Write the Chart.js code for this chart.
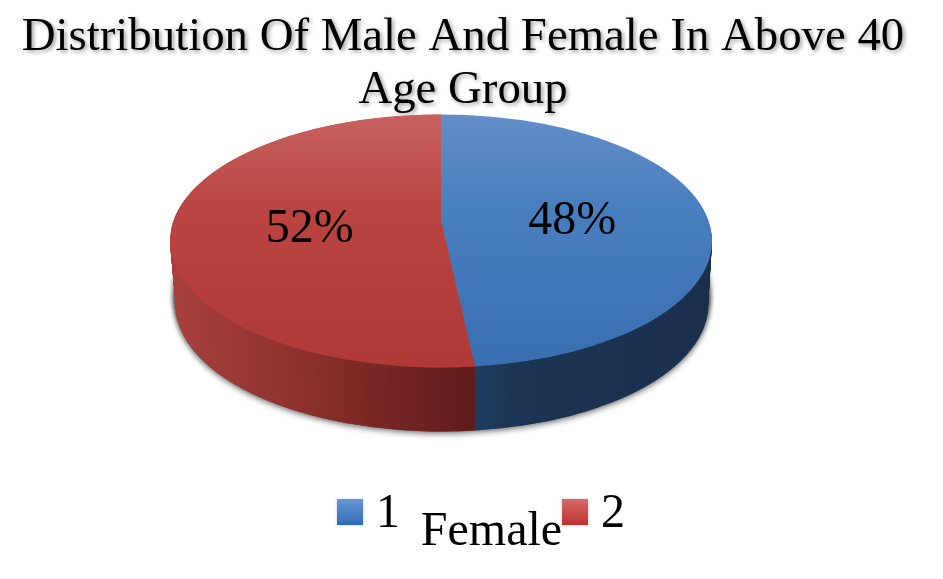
<!DOCTYPE html>
<html>
<head>
<meta charset="utf-8">
<title>Distribution Of Male And Female</title>
<script src="https://cdn.jsdelivr.net/npm/chart.js@4"></script>
<style>
    body { margin: 0; background: #fff; }
    canvas { display: block; }
</style>
</head>
<body>
<canvas id="pieChart" width="943" height="579"></canvas>
<script>
const titleLines = ['Distribution Of Male And Female In Above 40', 'Age Group'];
const categories = ['1', '2'];
const shares = [48, 52];
const axisLabel = 'Female';

const FONT = '"Liberation Serif", serif';
const CENTER_X = 441;
const CENTER_Y = 241;
const RADIUS = 271;
const SQUASH = 0.467;
const DEPTH = 64;
const WALL_TAPER = 0.018;
// the perspective in the picture moves the point where the slices meet upward
const APEX_Y = 220;

// top faces get a vertical shade, the walls a horizontal one
const faceStops = [
    [[0, '#638ec8'], [0.35, '#4a7fbf'], [1, '#386fb1']],
    [[0, '#c66260'], [0.35, '#bb4542'], [1, '#b03935']]
];
const wallStops = [
    [[0, '#1f3e63'], [0.15, '#1c3554'], [1, '#1a2f4c']],
    [[0, '#a8413d'], [0.45, '#8b2f2b'], [1, '#5e1c1a']]
];
const legendStops = [
    ['#6a97d3', '#2f6cb8'],
    ['#d76a68', '#bb3230']
];

function makeGradient(ctx, x0, y0, x1, y1, stops) {
    const g = ctx.createLinearGradient(x0, y0, x1, y1);
    stops.forEach(s => g.addColorStop(s[0], s[1]));
    return g;
}

function legendSwatch(stops) {
    const c = document.createElement('canvas');
    c.width = 32;
    c.height = 32;
    const ctx = c.getContext('2d');
    ctx.shadowColor = stops[0] + '66';
    ctx.shadowBlur = 3;
    ctx.fillStyle = makeGradient(ctx, 0, 1, 0, 27, [[0, stops[0]], [1, stops[1]]]);
    ctx.fillRect(3, 1, 26, 26);
    return c;
}

const piePlugin = {
    id: 'flatPie',
    afterLayout(chart) {
        // move the boxes to where the picture has them
        const title = chart.titleBlock;
        title.top = 11;
        title.left = 0;
        title.right = 926;
        const legend = chart.legend;
        legend.left = 0;
        legend.right = 973;
        legend.top = 317;
        legend.bottom = 579;
        const sub = chart.boxes.find(b => b.options && b.options.text === axisLabel);
        sub.left = 0;
        sub.right = 983;
        sub.top = 506;
        sub.bottom = 565;
        if (!title._wrapped) {
            const draw = title.draw.bind(title);
            title.draw = function () {
                const ctx = chart.ctx;
                ctx.save();
                ctx.shadowColor = 'rgba(0,0,0,0.4)';
                ctx.shadowBlur = 4;
                ctx.shadowOffsetX = 2;
                ctx.shadowOffsetY = 2;
                draw();
                ctx.restore();
            };
            title._wrapped = true;
        }
    },
    beforeDatasetDraw(chart, args) {
        const ctx = chart.ctx;
        const arcs = args.meta.data;
        const px = arcs[0].x;
        const py = arcs[0].y;
        const place = (dy) => {
            ctx.translate(CENTER_X + dy * 0.015, CENTER_Y + dy);
            ctx.scale(1 - WALL_TAPER * dy / DEPTH, SQUASH);
            ctx.translate(-px, -py);
        };
        const paint = (arc, color) => {
            const saved = arc.options;
            arc.options = Object.assign({}, saved, { backgroundColor: color, borderWidth: 0 });
            arc.draw(ctx);
            arc.options = saved;
        };

        // soft shadow under the bottom edge
        ctx.save();
        ctx.shadowColor = 'rgba(0,0,0,0.55)';
        ctx.shadowBlur = 6;
        ctx.shadowOffsetY = 2;
        for (let d = DEPTH; d > DEPTH - 24; d -= 6) {
            ctx.save();
            place(d);
            arcs.forEach(arc => paint(arc, '#555'));
            ctx.restore();
        }
        ctx.restore();

        // walls: the same slices stacked from the bottom up
        const seam = RADIUS * Math.sin(2 * Math.PI * shares[0] / (shares[0] + shares[1]));
        const walls = [
            makeGradient(ctx, px + seam, 0, px + RADIUS, 0, wallStops[0]),
            makeGradient(ctx, px - RADIUS, 0, px + seam, 0, wallStops[1])
        ];
        for (let d = DEPTH; d > 0; d--) {
            ctx.save();
            place(d);
            arcs.forEach((arc, i) => paint(arc, walls[i]));
            ctx.restore();
        }

        // top faces
        ctx.save();
        place(0);
        arcs.forEach((arc, i) => {
            paint(arc, makeGradient(ctx, 0, py - RADIUS, 0, py + RADIUS, faceStops[i]));
        });
        ctx.restore();

        // red slice again, with its tip raised, kept inside the top ellipse
        const seamDrop = RADIUS * -Math.cos(2 * Math.PI * shares[0] / (shares[0] + shares[1]));
        const tipSquash = (CENTER_Y + SQUASH * seamDrop - APEX_Y) / seamDrop;
        const toLocal = s => py + (s - APEX_Y) / tipSquash;
        ctx.save();
        ctx.beginPath();
        ctx.ellipse(CENTER_X, CENTER_Y, RADIUS, RADIUS * SQUASH, 0, 0, 2 * Math.PI);
        ctx.clip();
        ctx.translate(CENTER_X, APEX_Y);
        ctx.scale(1, tipSquash);
        ctx.translate(-px, -py);
        paint(arcs[1], makeGradient(ctx, 0, toLocal(CENTER_Y - RADIUS * SQUASH), 0, toLocal(CENTER_Y + RADIUS * SQUASH), faceStops[1]));
        ctx.restore();
        return false;
    },
    afterDatasetsDraw(chart) {
        const ctx = chart.ctx;
        const arcs = chart.getDatasetMeta(0).data;
        const total = shares.reduce((a, b) => a + b, 0);
        ctx.save();
        ctx.font = '48px ' + FONT;
        ctx.fillStyle = '#000';
        ctx.textAlign = 'center';
        ctx.textBaseline = 'middle';
        arcs.forEach((arc, i) => {
            const p = arc.getCenterPoint();
            const x = CENTER_X + (p.x - arc.x) * 0.97;
            const y = CENTER_Y + (p.y - arc.y) * SQUASH - 16;
            ctx.fillText(Math.round(shares[i] / total * 100) + '%', x, y);
        });
        ctx.restore();
    }
};

new Chart(document.getElementById('pieChart'), {
    type: 'pie',
    data: {
        labels: categories,
        datasets: [{
            data: shares,
            backgroundColor: ['#4a7ebb', '#be4b48'],
            borderWidth: 0,
            clip: false
        }]
    },
    options: {
        responsive: false,
        animation: false,
        radius: RADIUS,
        plugins: {
            tooltip: { enabled: false },
            title: {
                display: true,
                text: titleLines,
                color: '#000',
                padding: 0,
                font: { family: FONT, size: 46.8, weight: 'normal', lineHeight: 1.14 }
            },
            subtitle: {
                display: true,
                text: axisLabel,
                position: 'bottom',
                color: '#000',
                padding: 0,
                font: { family: FONT, size: 48, weight: 'normal', lineHeight: 1.1 }
            },
            legend: {
                position: 'bottom',
                labels: {
                    usePointStyle: true,
                    pointStyleWidth: 4,
                    padding: 173,
                    color: '#000',
                    font: { family: FONT, size: 48 },
                    generateLabels: () => categories.map((c, i) => ({
                        text: c,
                        fontColor: '#000',
                        lineWidth: 0,
                        pointStyle: legendSwatch(legendStops[i]),
                        index: i
                    }))
                }
            }
        }
    },
    plugins: [piePlugin]
});
</script>
</body>
</html>
